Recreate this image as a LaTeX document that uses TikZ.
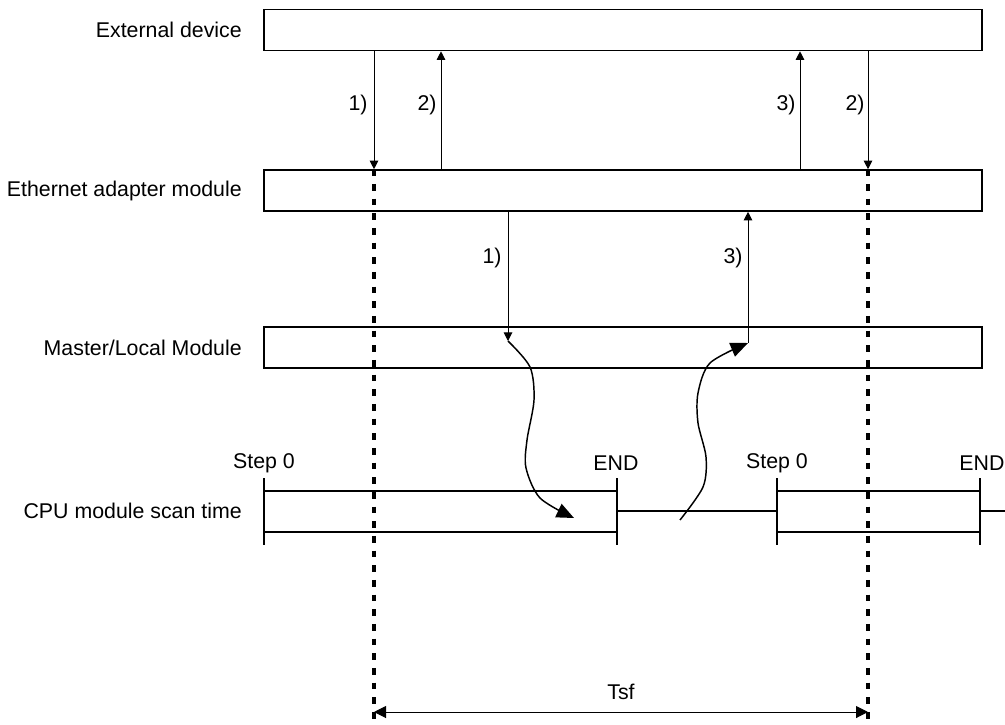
\documentclass[tikz,border=0pt]{standalone}
\usepackage{fontspec}
\setmainfont{Liberation Sans}
\usetikzlibrary{arrows.meta}
\tikzset{
  lane/.style={draw,line width=1.2pt,minimum width=538.5pt,minimum height=30.75pt,inner sep=0pt},
  lbl/.style={anchor=east,inner sep=0pt},
  sig/.style={-{Triangle[length=6.5pt,width=6.5pt]},line width=0.75pt},
  hand/.style={-{Triangle[length=13pt,width=11pt]},line width=1.1pt},
  tsfline/.style={line width=3pt,dash pattern=on 5pt off 6pt},
  scan/.style={line width=1.2pt}
}
\begin{document}
\begin{tikzpicture}[x=0.75pt,y=-0.75pt,font=\fontsize{16}{19}\selectfont]
\useasboundingbox (0,0) rectangle (1005,724);
% lanes
\node[lane] (ext) at (623,30) {};
\node[lane] (eth) at (623,190.5) {};
\node[lane] (mlm) at (623,347.5) {};
\node[lbl] (extl) at (242,30) {External device};
\node[lbl] (ethl) at (242,190.5) {Ethernet adapter module};
\node[lbl] (mlml) at (242,347.5) {Master/Local Module};
\node[lbl] (cpul) at (242,511) {CPU module scan time};
% x positions
\coordinate (x1) at (374,0);
\coordinate (x2) at (441,0);
\coordinate (x3) at (800,0);
\coordinate (x4) at (868,0);
\coordinate (x5) at (508,0);
\coordinate (x6) at (748,0);
\coordinate (in1) at (508,341);
\coordinate (out3) at (748,343);
% external <-> ethernet
\draw[sig] (ext.south -| x1) -- (eth.north -| x1);
\draw[sig] (eth.north -| x2) -- (ext.south -| x2);
\draw[sig] (eth.north -| x3) -- (ext.south -| x3);
\draw[sig] (ext.south -| x4) -- (eth.north -| x4);
\node (n1) at (358,105) {1)};
\node (n2) at (427,105) {2)};
\node (n3) at (786,105) {3)};
\node (n4) at (855,105) {2)};
% ethernet <-> master
\draw[sig] (eth.south -| x5) -- (in1);
\draw[sig] (out3) -- (eth.south -| x6);
\node (n5) at (492,258) {1)};
\node (n6) at (733,258) {3)};
% scan time
\draw[scan] (264,491) -- (617,491) (264,532) -- (617,532)
  (264,478) -- (264,545) (617,478) -- (617,545)
  (617,511) -- (777,511)
  (777,491) -- (980,491) (777,532) -- (980,532)
  (777,478) -- (777,545) (980,478) -- (980,545)
  (980,511) -- (1005,511);
\node (s0a) at (264,463) {Step 0};
\node (enda) at (616,463) {END};
\node (s0b) at (777,463) {Step 0};
\node (endb) at (982,463) {END};
% handover
\coordinate (h1) at (574,518);
\coordinate (h2) at (680,520);
\draw[hand] plot[smooth] coordinates {(in1) (530,367) (534,400) (527,440) (526,468) (540,498) (h1)};
\draw[hand] plot[smooth] coordinates {(h2) (703,487) (706,457) (698,423) (698,393) (710,363) (out3)};
% Tsf
\coordinate (b1) at (374,724);
\coordinate (b4) at (868,724);
\draw[tsfline] (eth.north -| x1) -- (b1);
\draw[tsfline] (eth.north -| x4) -- (b4);
\coordinate (t1) at (374,712);
\coordinate (t4) at (868,712);
\draw[{Triangle[length=9pt,width=9pt]}-{Triangle[length=9pt,width=9pt]},line width=0.75pt] (t1) -- (t4);
\node (tsf) at (621,692) {Tsf};
\end{tikzpicture}
\end{document}
